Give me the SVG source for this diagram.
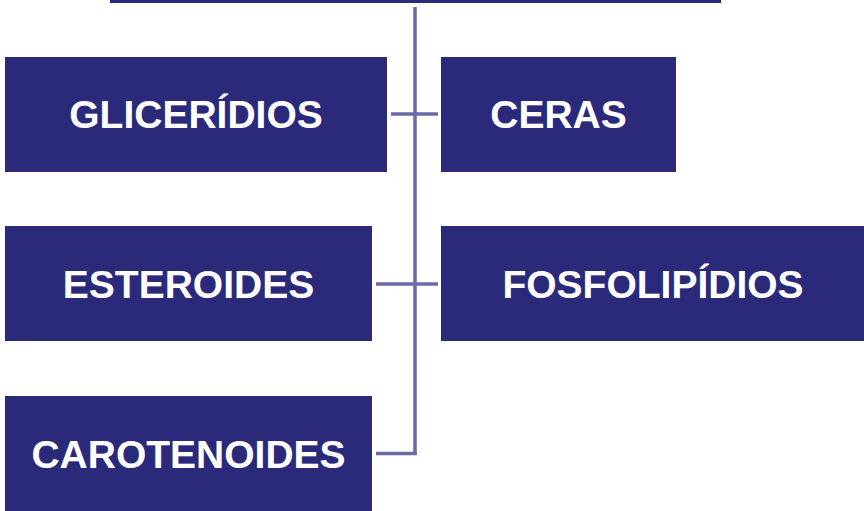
<svg xmlns="http://www.w3.org/2000/svg" width="864" height="511" viewBox="0 0 864 511">
  <style>
    .box { fill: #2b2a7a; }
    .label { fill: #ffffff; font-family: "Liberation Sans", Arial, sans-serif; font-weight: bold; font-size: 39px; text-anchor: middle; }
    .link { fill: none; stroke: #6b6aa8; stroke-width: 3.5; }
  </style>
  <rect width="864" height="511" fill="#ffffff"/>

  <!-- top bar (parent node, cropped at top edge) -->
  <g id="topo">
    <rect class="box" x="110" y="-20" width="611" height="23"/>
  </g>

  <!-- connectors -->
  <g id="conectores">
    <path class="link" d="M415 7 V455"/>
    <path class="link" d="M391 114 H438"/>
    <path class="link" d="M376 284 H438"/>
    <path class="link" d="M376 453.5 H416.75"/>
  </g>

  <g id="glicerideos">
    <rect class="box" x="5" y="57" width="382" height="115"/>
    <text class="label" x="196" y="128">GLICERÍDIOS</text>
  </g>
  <g id="ceras">
    <rect class="box" x="441" y="57" width="235" height="115"/>
    <text class="label" x="558.5" y="128">CERAS</text>
  </g>
  <g id="esteroides">
    <rect class="box" x="5" y="226" width="367" height="115"/>
    <text class="label" x="188.5" y="298">ESTEROIDES</text>
  </g>
  <g id="fosfolipidios">
    <rect class="box" x="441" y="226" width="423" height="115"/>
    <text class="label" x="653" y="298">FOSFOLIPÍDIOS</text>
  </g>
  <g id="carotenoides">
    <rect class="box" x="5" y="396" width="367" height="115"/>
    <text class="label" x="188.5" y="468">CAROTENOIDES</text>
  </g>
</svg>
